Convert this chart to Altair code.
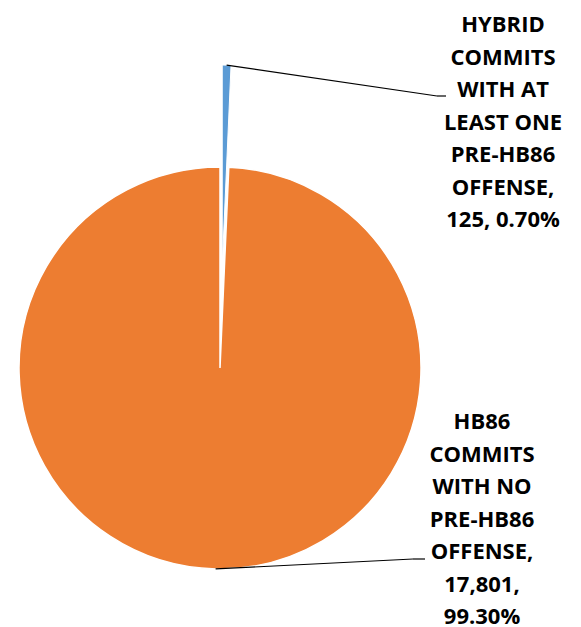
import math
import altair as alt
import pandas as pd

# ---- data ----
categories = [
    "HYBRID COMMITS WITH AT LEAST ONE PRE-HB86 OFFENSE",
    "HB86 COMMITS WITH NO PRE-HB86 OFFENSE",
]
counts = [125, 17801]
order_idx = [0, 1]
label_hybrid = ["HYBRID", "COMMITS", "WITH AT", "LEAST ONE", "PRE-HB86", "OFFENSE,", "125, 0.70%"]
label_hb86 = ["HB86", "COMMITS", "WITH NO", "PRE-HB86", "OFFENSE,", "17,801,", "99.30%"]
colors = ["#5B9BD5", "#ED7D31"]

df = pd.DataFrame({"category": categories, "count": counts, "idx": order_idx})

# ---- layout / style ----
W, H = 565, 619
CX, CY = 212, 360          # pie centre
R = 201                    # pie radius
EXPLODE = 102              # explosion of the small slice
FONT = "Open Sans"

total = sum(counts)
a_blue = math.pi * counts[0] / total            # mid-angle of first slice
a_orange = 2 * math.pi * (counts[0] + counts[1] / 2) / total
dx = EXPLODE * math.sin(a_blue)
dy = -EXPLODE * math.cos(a_blue)

base = alt.Chart(df).encode(
    theta=alt.Theta("count:Q", stack=True),
    order=alt.Order("idx:Q"),
    color=alt.Color("category:N", scale=alt.Scale(domain=categories, range=colors), legend=None),
)

orange = base.mark_arc(radius=R, stroke="white", strokeWidth=1.5).encode(
    x=alt.value(CX), y=alt.value(CY),
    opacity=alt.when(alt.datum.idx == 1).then(alt.value(1)).otherwise(alt.value(0)),
)
blue = base.mark_arc(radius=R, stroke="white", strokeWidth=1).encode(
    x=alt.value(CX + dx), y=alt.value(CY + dy),
    opacity=alt.when(alt.datum.idx == 0).then(alt.value(1)).otherwise(alt.value(0)),
)

one = alt.Chart(pd.DataFrame({"k": [0]}))

def seg(x1, y1, x2, y2):
    return one.mark_rule(color="black", strokeWidth=1.2).encode(
        x=alt.value(x1), y=alt.value(y1), x2=alt.value(x2), y2=alt.value(y2)
    )

# leader line for the small slice
s1x = CX + (R + EXPLODE) * math.sin(a_blue)
s1y = CY - (R + EXPLODE) * math.cos(a_blue)
# leader line for the big slice
s2x = CX + R * math.sin(a_orange)
s2y = CY - R * math.cos(a_orange)

leaders = [
    seg(s1x, s1y, 429, 88), seg(429, 88, 438, 88),
    seg(s2x, s2y, 405, 551), seg(405, 551, 417, 551),
]

def label(lines, x, y):
    return one.mark_text(
        font=FONT, fontSize=22, fontWeight="bold", color="black",
        align="center", baseline="middle", lineHeight=32.5,
    ).encode(x=alt.value(x), y=alt.value(y), text=alt.value(lines))

labels = [label(label_hybrid, 495, 17), label(label_hb86, 474, 414)]

chart = alt.layer(orange, blue, *leaders, *labels).properties(
    width=W, height=H, padding=0,
    autosize=alt.AutoSizeParams(type="none"),
).configure_view(stroke=None)

chart.save("out.html", embed_options={"renderer": "svg", "actions": False})
